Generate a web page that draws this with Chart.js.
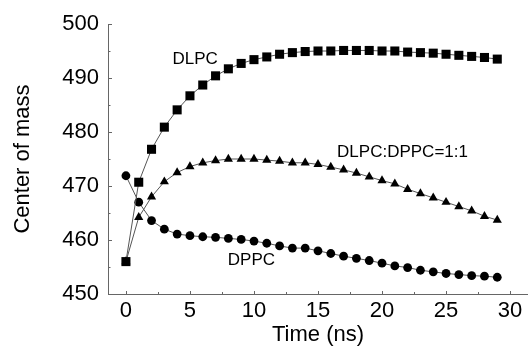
<!DOCTYPE html>
<html>
<head>
<meta charset="utf-8">
<script src="https://cdn.jsdelivr.net/npm/chart.js@4/dist/chart.umd.min.js"></script>
<style>
html,body{margin:0;padding:0;background:#fff;}
#wrap{width:528px;height:353px;position:relative;}
</style>
</head>
<body>
<div id="wrap"><canvas id="c" width="528" height="353"></canvas></div>
<script>
const times = [0,1,2,3,4,5,6,7,8,9,10,11,12,13,14,15,16,17,18,19,20,21,22,23,24,25,26,27,28,29];
const dlpc = [456.0,470.7,476.8,480.9,484.1,486.7,488.7,490.4,491.7,492.7,493.4,493.9,494.4,494.7,494.9,495.0,495.0,495.1,495.1,495.1,495.0,495.0,494.8,494.7,494.6,494.4,494.2,494.0,493.8,493.5];
const mix = [456.0,464.2,468.0,470.8,472.5,473.6,474.3,474.7,475.0,475.0,475.0,474.8,474.6,474.3,474.3,474.0,473.5,473.0,472.4,471.7,471.0,470.4,469.4,468.6,467.8,467.0,466.2,465.4,464.4,463.7];
const dppc = [471.9,467.0,463.6,462.0,461.1,460.8,460.6,460.5,460.3,460.1,459.8,459.4,458.9,458.5,458.5,458.0,457.5,457.0,456.6,456.2,455.7,455.2,454.9,454.4,454.1,453.8,453.6,453.4,453.3,453.1];
const yTicks = [450,460,470,480,490,500];
const xTicks = [0,5,10,15,20,25,30];
const seriesLabels = ['DLPC','DLPC:DPPC=1:1','DPPC'];
// annotation anchors in data coordinates
const annotations = [
  {text:'DLPC', x:5.4, y:493.5},
  {text:'DLPC:DPPC=1:1', x:21.6, y:476.3},
  {text:'DPPC', x:9.8, y:456.3}
];

const FONT = '"Liberation Sans", Arial, Helvetica, sans-serif';

function mk(data, style, r){
  return {
    label: '',
    data: times.map((t,i)=>({x:t,y:data[i]})),
    borderColor:'#555', borderWidth:1,
    pointStyle:style, pointRadius:r, pointHoverRadius:r,
    pointBackgroundColor:'#000', pointBorderColor:'#000', pointBorderWidth:0,
    tension:0, fill:false
  };
}

const extras = {
  id:'extras',
  afterDatasetsDraw(chart){
    const ctx = chart.ctx, xs = chart.scales.x, ys = chart.scales.y;
    const ca = chart.chartArea;
    ctx.save();
    ctx.strokeStyle = '#666'; ctx.lineWidth = 1;
    for (let v=450; v<=500; v+=5){
      const p = Math.round(ys.getPixelForValue(v))+0.5;
      const len = (v%10===0)?4:2.5;
      ctx.beginPath(); ctx.moveTo(ca.left, p); ctx.lineTo(ca.left+len, p); ctx.stroke();
    }
    for (let v=0; v<=30; v+=2.5){
      const p = Math.round(xs.getPixelForValue(v))+0.5;
      const len = (v%5===0)?3:2;
      ctx.beginPath(); ctx.moveTo(p, ca.bottom); ctx.lineTo(p, ca.bottom-len); ctx.stroke();
    }
    ctx.fillStyle = '#000';
    ctx.font = '17px ' + FONT;
    ctx.textAlign = 'center'; ctx.textBaseline = 'middle';
    annotations.forEach(a=>{
      ctx.fillText(a.text, xs.getPixelForValue(a.x), ys.getPixelForValue(a.y));
    });
    ctx.restore();
  }
};

new Chart(document.getElementById('c'), {
  type:'line',
  data:{ datasets:[ mk(dlpc,'rect',6.4), mk(mix,'triangle',5.3), mk(dppc,'circle',4.4) ] },
  options:{
    responsive:false, animation:false, devicePixelRatio:1,
    layout:{autoPadding:false, padding:{top:24,right:0,bottom:0,left:0}},
    plugins:{legend:{display:false}, tooltip:{enabled:false}},
    scales:{
      x:{
        type:'linear', min:-1.4, max:31.4,
        afterBuildTicks(s){ s.ticks = xTicks.map(v=>({value:v})); },
        afterFit(s){ s.height = 59; s.paddingRight = 0; s.paddingLeft = 0; },
        ticks:{ includeBounds:false, stepSize:5, color:'#000', font:{family:FONT,size:22}, padding:4, maxRotation:0 },
        grid:{display:false, drawTicks:false},
        border:{display:true, color:'#666', width:1},
        title:{display:true, text:'Time (ns)', color:'#000', font:{family:FONT,size:22}, padding:{top:0,bottom:5}}
      },
      y:{
        type:'linear', min:450, max:500,
        afterBuildTicks(s){ s.ticks = yTicks.map(v=>({value:v})); },
        afterFit(s){ s.width = 108; s.paddingTop = 0; s.paddingBottom = 0; },
        ticks:{ stepSize:10, color:'#000', font:{family:FONT,size:22}, padding:9 },
        grid:{display:false, drawTicks:false},
        border:{display:true, color:'#666', width:1},
        title:{display:true, text:'Center of mass', color:'#000', font:{family:FONT,size:22}, padding:{top:10,bottom:0}}
      }
    }
  },
  plugins:[extras]
});
</script>
</body>
</html>
